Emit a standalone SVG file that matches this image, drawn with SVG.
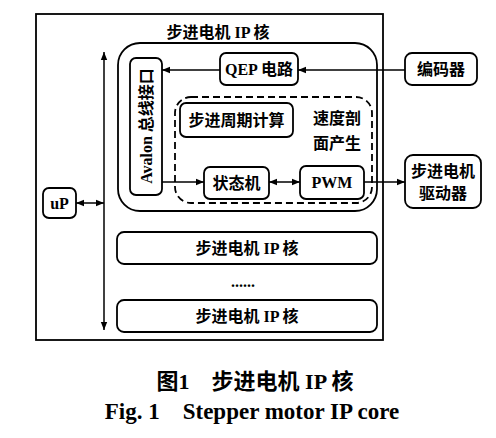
<svg xmlns="http://www.w3.org/2000/svg" width="496" height="438" viewBox="0 0 496 438">
<style>
.box{fill:none;stroke:#000;stroke-width:1.8}
.dash{fill:none;stroke:#000;stroke-width:1.8;stroke-dasharray:7 4}
.ln{fill:none;stroke:#000;stroke-width:1.5}
.t{font-family:"Liberation Serif","Noto Sans CJK SC",serif;font-size:16px;font-weight:bold;fill:#000;text-anchor:middle;dominant-baseline:central}
.cap{font-family:"Liberation Serif","Noto Sans CJK SC",serif;font-size:22px;font-weight:bold;fill:#000;text-anchor:middle;dominant-baseline:central}
.capf{font-family:"Liberation Serif",serif;font-size:23px;font-weight:bold;fill:#000;text-anchor:middle;dominant-baseline:central}
</style>
<defs>
<marker id="ah" viewBox="0 0 10 10" refX="10" refY="5" markerWidth="10" markerHeight="8" markerUnits="userSpaceOnUse" orient="auto-start-reverse">
<path d="M0,1 L10,5 L0,9 Z" fill="#000"/>
</marker>
</defs>
<rect width="496" height="438" fill="#fff"/>
<g id="outer">
<rect class="box" x="36" y="14" width="347" height="326" rx="0"/>
<text class="t" x="218" y="32">步进电机 IP 核</text>
</g>
<g id="ipcore">
<rect class="box" x="118" y="43" width="259" height="168" rx="22"/>
</g>
<g id="speed">
<rect class="dash" x="175" y="97" width="197" height="106" rx="16"/>
<text class="t" x="337" y="118">速度剖</text>
<text class="t" x="337" y="143">面产生</text>
</g>
<g id="avalon">
<rect class="box" x="130" y="58" width="32" height="137" rx="6"/>
<text class="t" transform="translate(146,126) rotate(-90)">Avalon 总线接口</text>
</g>
<g id="qep">
<rect class="box" x="220" y="53" width="78" height="32" rx="6"/>
<text class="t" x="259" y="69">QEP 电路</text>
</g>
<g id="encoder">
<rect class="box" x="405" y="53" width="72" height="32" rx="7"/>
<text class="t" x="441" y="69">编码器</text>
</g>
<g id="period">
<rect class="box" x="180" y="103" width="113" height="34" rx="6"/>
<text class="t" x="236.5" y="120">步进周期计算</text>
</g>
<g id="fsm">
<rect class="box" x="204" y="167" width="65" height="32" rx="6"/>
<text class="t" x="236.5" y="183">状态机</text>
</g>
<g id="pwm">
<rect class="box" x="300" y="166" width="64" height="33" rx="6"/>
<text class="t" x="332" y="182.5">PWM</text>
</g>
<g id="driver">
<rect class="box" x="405" y="155" width="76" height="53" rx="8"/>
<text class="t" x="443" y="171">步进电机</text>
<text class="t" x="443" y="193">驱动器</text>
</g>
<g id="up">
<rect class="box" x="43" y="188" width="33" height="30" rx="6"/>
<text class="t" x="59.5" y="203">uP</text>
</g>
<g id="core2">
<rect class="box" x="117" y="232" width="260" height="32" rx="7"/>
<text class="t" x="247" y="248">步进电机 IP 核</text>
</g>
<g id="dots">
<text class="t" x="243" y="281">......</text>
</g>
<g id="core3">
<rect class="box" x="117" y="300" width="260" height="32" rx="7"/>
<text class="t" x="247" y="316">步进电机 IP 核</text>
</g>
<g id="connectors">
<line class="ln" x1="104" y1="52" x2="104" y2="330" marker-start="url(#ah)" marker-end="url(#ah)"/>
<line class="ln" x1="76" y1="203" x2="104" y2="203" marker-start="url(#ah)" marker-end="url(#ah)"/>
<line class="ln" x1="220" y1="70" x2="162" y2="70" marker-end="url(#ah)"/>
<line class="ln" x1="405" y1="70" x2="298" y2="70" marker-end="url(#ah)"/>
<line class="ln" x1="162" y1="182" x2="204" y2="182" marker-end="url(#ah)"/>
<line class="ln" x1="269" y1="182" x2="300" y2="182" marker-start="url(#ah)" marker-end="url(#ah)"/>
<line class="ln" x1="364" y1="182" x2="405" y2="182" marker-end="url(#ah)"/>
</g>
<g id="caption">
<text class="cap" x="255" y="381" xml:space="preserve">图1    步进电机 IP 核</text>
<text class="capf" x="252" y="411" xml:space="preserve">Fig. 1    Stepper motor IP core</text>
</g>
</svg>
